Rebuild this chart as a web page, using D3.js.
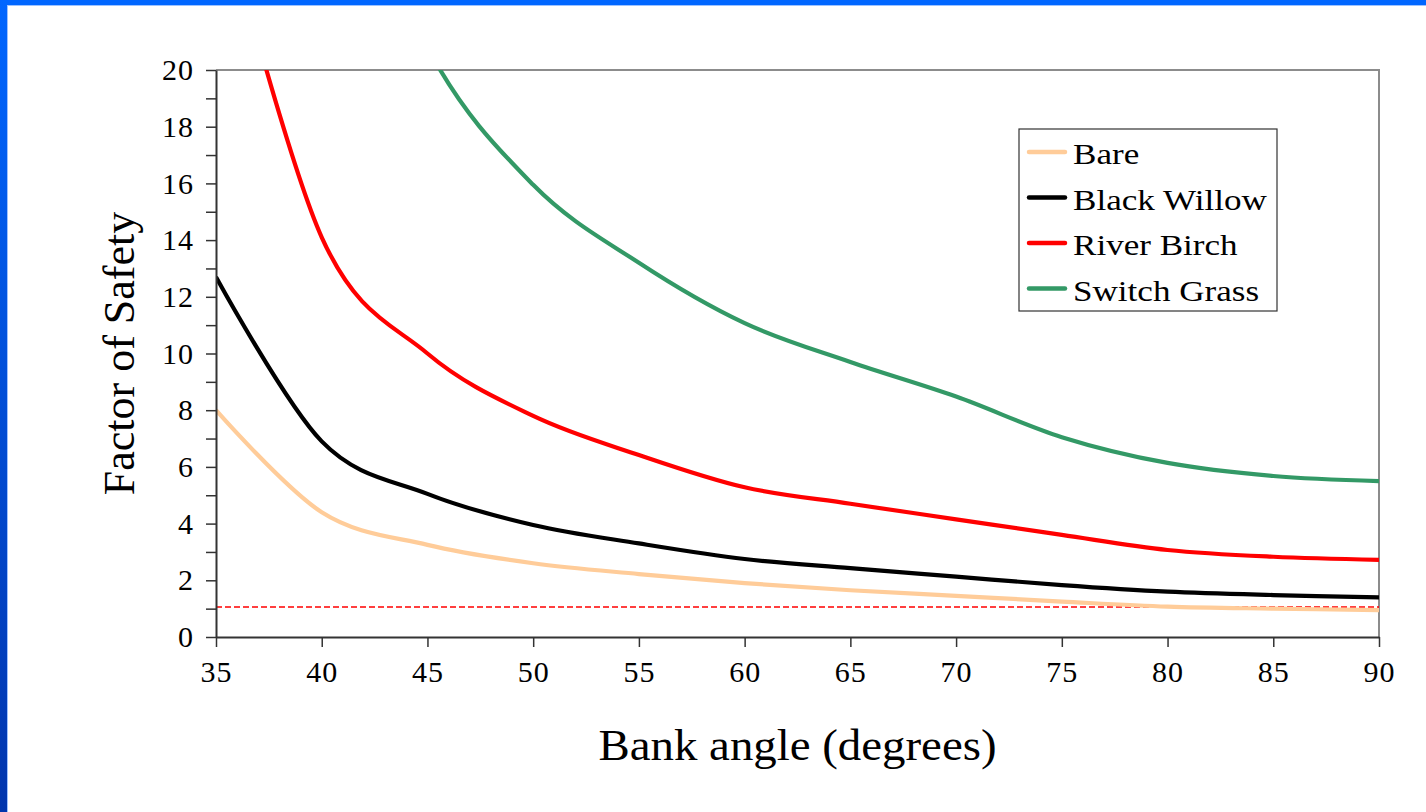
<!DOCTYPE html>
<html>
<head>
<meta charset="utf-8">
<script src="https://cdn.jsdelivr.net/npm/d3@7"></script>
<style>
  body { margin: 0; background: #fff; }
  svg { display: block; }
  text { font-family: "Liberation Serif", "Times New Roman", serif; fill: #000; }
</style>
</head>
<body>
<svg id="chart" width="1426" height="812"></svg>
<script>
"use strict";

// bank angle (degrees) and factor of safety
var angles = [35, 40, 45, 50, 55, 60, 65, 70, 75, 80, 85, 90];
var bare = [8.0, 4.4, 3.25, 2.6, 2.22, 1.9, 1.65, 1.45, 1.25, 1.07, 1.0, 0.95];
var blackWillow = [12.7, 6.9, 5.05, 3.95, 3.3, 2.75, 2.43, 2.13, 1.83, 1.6, 1.48, 1.4];
var riverBirch = [26.5, 14.1, 10.0, 7.8, 6.42, 5.28, 4.7, 4.15, 3.6, 3.07, 2.83, 2.72];
var switchGrass = [44, 30, 20.8, 15.95, 13.2, 11.07, 9.7, 8.48, 7.05, 6.14, 5.68, 5.5];
var seriesNames = ["Bare", "Black Willow", "River Birch", "Switch Grass"];
var seriesColors = ["#ffcc99", "#000000", "#ff0000", "#339966"];
var safetyLine = 1.06;
var xTicks = [35, 40, 45, 50, 55, 60, 65, 70, 75, 80, 85, 90];
var yTicks = d3.range(0, 21, 1);

var svg = d3.select("#chart");

var plot = { l: 216, r: 1379, t: 70, b: 637 };

// slide frame
var grad = svg.append("defs").append("linearGradient")
  .attr("id", "frameGrad")
  .attr("x1", 0).attr("y1", 0).attr("x2", 0).attr("y2", 1);
grad.append("stop").attr("offset", "0%").attr("stop-color", "#0066ff");
grad.append("stop").attr("offset", "100%").attr("stop-color", "#0035ad");

svg.append("rect").attr("x", 0).attr("y", 0).attr("width", 1426).attr("height", 5).attr("fill", "#0066ff");
svg.append("rect").attr("x", 7).attr("y", 5).attr("width", 1419).attr("height", 1).attr("fill", "#9cc2ff");
svg.append("rect").attr("x", 0).attr("y", 0).attr("width", 7).attr("height", 812).attr("fill", "url(#frameGrad)");
svg.append("rect").attr("x", 7).attr("y", 5).attr("width", 1).attr("height", 807).attr("fill", "#9cc2ff");

svg.select("defs").append("clipPath")
  .attr("id", "plotClip")
  .append("rect")
  .attr("x", plot.l).attr("y", plot.t)
  .attr("width", plot.r - plot.l).attr("height", plot.b - plot.t);

var x = d3.scaleLinear().domain([35, 90]).range([plot.l, plot.r]);
var y = d3.scaleLinear().domain([0, 20]).range([plot.b, plot.t]);

// top and right frame of the plot
svg.append("path")
  .attr("d", "M" + x(35) + "," + y(20) + "H" + x(90) + "V" + y(0))
  .attr("fill", "none")
  .attr("stroke", "#8c8c8c")
  .attr("stroke-width", 2);

// dashed line at FS ~ 1
svg.append("line")
  .attr("x1", x(35)).attr("x2", x(90))
  .attr("y1", y(safetyLine)).attr("y2", y(safetyLine))
  .attr("stroke", "#ff0000")
  .attr("stroke-width", 1.4)
  .attr("stroke-dasharray", "6,3");

var allSeries = [bare, blackWillow, riverBirch, switchGrass];

var line = d3.line()
  .x(function(d, i) { return x(angles[i]); })
  .y(function(d) { return y(d); })
  .curve(d3.curveCatmullRom.alpha(0));

svg.append("g")
  .attr("clip-path", "url(#plotClip)")
  .selectAll("path")
  .data(allSeries)
  .enter().append("path")
  .attr("d", line)
  .attr("fill", "none")
  .attr("stroke", function(d, i) { return seriesColors[i]; })
  .attr("stroke-width", 4.2)
  .attr("stroke-linejoin", "round");

// axes
var yAxis = svg.append("g")
  .attr("transform", "translate(" + plot.l + ",0)")
  .call(d3.axisLeft(y)
    .tickValues(yTicks)
    .tickSize(10)
    .tickSizeOuter(0)
    .tickPadding(12)
    .tickFormat(function(d) { return d % 2 === 0 ? d : ""; }));

var xAxis = svg.append("g")
  .attr("transform", "translate(0," + plot.b + ")")
  .call(d3.axisBottom(x)
    .tickValues(xTicks)
    .tickSize(10)
    .tickSizeOuter(0)
    .tickPadding(14));

[yAxis, xAxis].forEach(function(g) {
  g.select(".domain").attr("stroke", "#333").attr("stroke-width", 2);
  g.selectAll(".tick line").attr("stroke", "#333").attr("stroke-width", 1.5);
  g.selectAll(".tick text")
    .style("font-family", "'Liberation Serif', 'Times New Roman', serif")
    .style("font-size", "30px")
    .style("letter-spacing", "1px")
    .attr("fill", "#000");
});

// axis titles (the slide text is a bit stretched sideways)
svg.append("text")
  .attr("transform", "translate(" + ((plot.l + plot.r) / 2) + ",760) scale(1.065,1)")
  .attr("text-anchor", "middle")
  .style("font-size", "44px")
  .text("Bank angle (degrees)");

svg.append("text")
  .attr("transform", "translate(134," + ((plot.t + plot.b) / 2) + ") rotate(-90)")
  .attr("text-anchor", "middle")
  .style("font-size", "44px")
  .text("Factor of Safety");

// legend
var legend = svg.append("g").attr("transform", "translate(1019,129)");
legend.append("rect")
  .attr("width", 258).attr("height", 182)
  .attr("fill", "#fff")
  .attr("stroke", "#333")
  .attr("stroke-width", 1.2);

var item = legend.selectAll(".item")
  .data(seriesNames)
  .enter().append("g")
  .attr("transform", function(d, i) { return "translate(0," + (23 + i * 45.5) + ")"; });

item.append("line")
  .attr("x1", 10).attr("x2", 46)
  .attr("stroke", function(d, i) { return seriesColors[i]; })
  .attr("stroke-width", 4.5)
  .attr("stroke-linecap", "round");

item.append("text")
  .attr("transform", "translate(54,12) scale(1.17,1)")
  .style("font-size", "30px")
  .text(function(d) { return d; });
</script>
</body>
</html>
